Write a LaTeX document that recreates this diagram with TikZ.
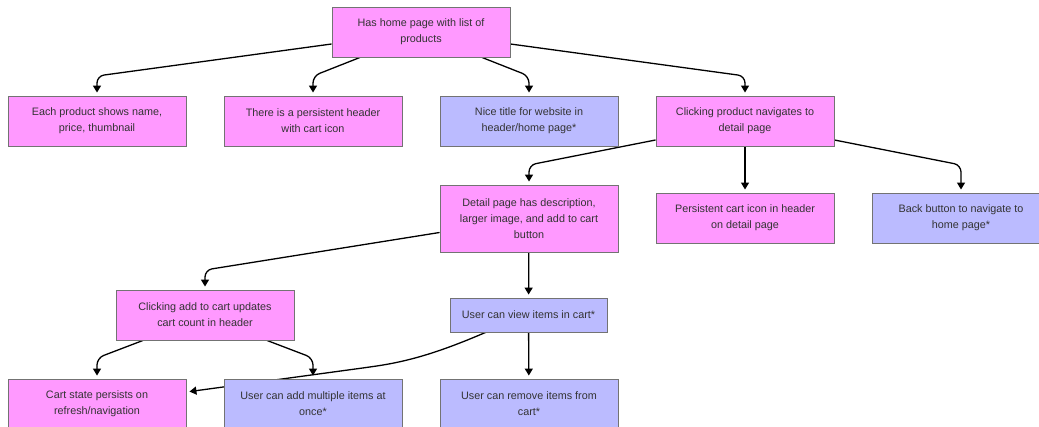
\documentclass[tikz,border=0pt]{standalone}
\usepackage{fontspec}
\setmainfont{Liberation Sans}
\usetikzlibrary{arrows.meta,backgrounds}

\definecolor{corepink}{HTML}{FF99FF}
\definecolor{extrablue}{HTML}{BBBBFF}
\definecolor{inkgray}{HTML}{333333}

\tikzset{
  core/.style={draw=black!55, line width=0.9pt, fill=corepink, text=inkgray,
    minimum width=178pt, minimum height=50pt, inner sep=0pt, align=center,
    font=\fontsize{10.8}{16}\selectfont},
  extra/.style={core, fill=extrablue},
  flow/.style={-{Triangle[length=7pt,width=8pt]}, line width=1.3pt,
    rounded corners=7pt, shorten >=3pt},
}

\begin{document}
\begin{tikzpicture}[x=1pt,y=-1pt]
  \clip (0,0) rectangle (1039,427);

  % home page
  \node[core] (home) at (421,32) {Has home page with list of\\products};
  \node[core] (thumbs) at (97,121) {Each product shows name,\\price, thumbnail};
  \node[core] (header) at (313,121) {There is a persistent header\\with cart icon};
  \node[extra] (title) at (529,121) {Nice title for website in\\header/home page*};
  \node[core] (navdetail) at (745,121) {Clicking product navigates to\\detail page};

  % detail page
  \node[core, minimum height=67pt] (detail) at (529,218.5)
    {Detail page has description,\\larger image, and add to cart\\button};
  \node[core] (detailcart) at (745,218) {Persistent cart icon in header\\on detail page};
  \node[extra] (back) at (961,218) {Back button to navigate to\\home page*};

  % cart
  \node[core] (count) at (205,315) {Clicking add to cart updates\\cart count in header};
  \node[extra, minimum width=157pt, minimum height=34pt] (view) at (528.5,315)
    {User can view items in cart*};
  \node[core] (persist) at (97,404) {Cart state persists on\\refresh/navigation};
  \node[extra] (multi) at (313,404) {User can add multiple items at\\once*};
  \node[extra] (remove) at (529,404) {User can remove items from\\cart*};

  \coordinate (row1) at (0,76);
  \coordinate (row2) at (0,165);
  \coordinate (row3) at (0,270);
  \coordinate (row4) at (0,358);

  \begin{pgfonlayer}{background}
    \draw[flow] ([yshift=-12pt]home.west) -- (thumbs.north |- row1) -- (thumbs.north);
    \draw[flow] ([xshift=-61pt]home.south) -- (header.north |- row1) -- (header.north);
    \draw[flow] ([xshift=61pt]home.south) -- (title.north |- row1) -- (title.north);
    \draw[flow] ([yshift=-12pt]home.east) -- (navdetail.north |- row1) -- (navdetail.north);

    \draw[flow] ([yshift=-19pt]navdetail.west) -- (detail.north |- row2) -- (detail.north);
    \draw[flow] (navdetail) -- (detailcart);
    \draw[flow] ([yshift=-19pt]navdetail.east) -- (back.north |- row2) -- (back.north);

    \draw[flow] ([yshift=-14pt]detail.west) -- (count.north |- row3) -- (count.north);
    \draw[flow] (detail) -- (view);

    \draw[flow] ([xshift=-62pt]count.south) -- (persist.north |- row4) -- (persist.north);
    \draw[flow] ([xshift=62pt]count.south) -- (multi.north |- row4) -- (multi.north);
    \draw[flow] ([xshift=-43pt]view.south) .. controls (440,352) and (410,361) .. (370,367)
      -- ([yshift=12pt]persist.east);
    \draw[flow] (view) -- (remove);
  \end{pgfonlayer}
\end{tikzpicture}
\end{document}
